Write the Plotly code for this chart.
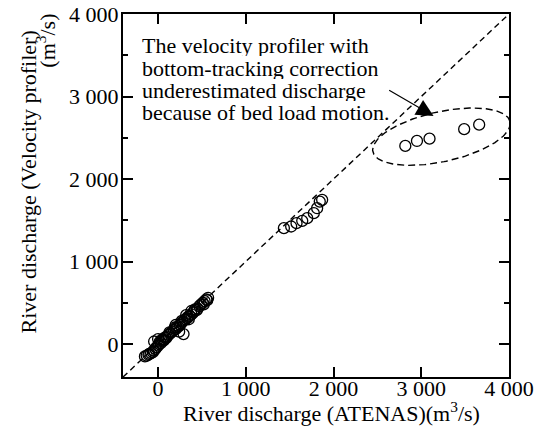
import numpy as np
import plotly.graph_objects as go

# ---- data ----
x_atenas = [
    -150, -130, -110, -100, -80, -60, -50, -30, -20, 0, 0, 10, 20, 30, 40, 50, 60, 70, 80, 90,
    100, 120, 130, 140, 160, 180, 190, 200, 200, 210, 230, 240, 250, 260, 270, 280, 290, 300,
    310, 320, 330, 340, 350, 360, 380, 380, 400, 410, 420, 440, 450, 470, 490, 510, 520, 530,
    550, 560, 570, -45,
    1434, 1517, 1578, 1643, 1700, 1775, 1813, 1843, 1870,
    2818, 2951, 3094, 3489, 3660,
]
y_profiler = [
    -150, -140, -130, -120, -110, -100, -80, -60, -40, -20, 60, 0, 30, 10, 40, 60, 40, 50, 80, 70,
    90, 110, 140, 130, 150, 170, 200, 180, 230, 200, 210, 150, 230, 250, 280, 270, 120, 290,
    300, 350, 310, 330, 300, 340, 360, 400, 380, 400, 420, 410, 430, 460, 480, 500, 480, 520,
    540, 530, 560, 30,
    1404, 1424, 1465, 1493, 1525, 1586, 1646, 1726, 1747,
    2401, 2461, 2489, 2604, 2659,
]
line_1to1 = [-400, 4000]
tick_vals = [0, 1000, 2000, 3000, 4000]
tick_text = ["0", "1 000", "2 000", "3 000", "4 000"]
note_lines = [
    "The velocity profiler with",
    "bottom-tracking correction",
    "underestimated discharge",
    "because of bed load motion.",
]
note_y = [3624, 3349, 3079, 2815]
note_x = -205
arrow_tip = (3140, 2764)
arrow_tail = (2617, 3087)
# ellipse (annotation outline) centre and semi-axis vectors in data units
ell_c = (3230, 2513)
ell_a = (782, 182)
ell_b = (-61, 296)

FONT = "'Liberation Serif', 'Times New Roman', Times, serif"
FS = 22

fig = go.Figure()

fig.add_trace(go.Scatter(
    x=line_1to1, y=line_1to1, mode="lines",
    line=dict(color="black", width=1.4, dash="6px,4px"),
    showlegend=False, hoverinfo="skip",
))

t = np.linspace(0, 2 * np.pi, 200)
ex = ell_c[0] + np.cos(t) * ell_a[0] + np.sin(t) * ell_b[0]
ey = ell_c[1] + np.cos(t) * ell_a[1] + np.sin(t) * ell_b[1]
fig.add_trace(go.Scatter(
    x=ex, y=ey, mode="lines",
    line=dict(color="black", width=1.4, dash="7px,4px"),
    showlegend=False, hoverinfo="skip",
))

fig.add_trace(go.Scatter(
    x=x_atenas, y=y_profiler, mode="markers",
    marker=dict(symbol="circle-open", size=11, color="black", line=dict(width=1.3, color="black")),
    showlegend=False,
))

for txt, yy in zip(note_lines, note_y):
    fig.add_annotation(
        x=note_x, y=yy, xref="x", yref="y", text=txt, showarrow=False,
        xanchor="left", yanchor="middle", height=22, valign="middle",
        font=dict(family=FONT, size=FS, color="black"),
    )

fig.add_annotation(
    x=arrow_tip[0], y=arrow_tip[1], ax=arrow_tail[0], ay=arrow_tail[1],
    xref="x", yref="y", axref="x", ayref="y", text="", showarrow=True,
    arrowhead=2, arrowsize=2.85, arrowwidth=1.2, arrowcolor="black", standoff=0,
)

# y-axis title (two lines)
fig.add_annotation(
    x=-0.245, y=0.537, xref="paper", yref="paper", text="River discharge (Velocity profiler)",
    textangle=-90, showarrow=False, xanchor="center", yanchor="middle",
    font=dict(family=FONT, size=FS, color="black"),
)
fig.add_annotation(
    x=-0.199, y=0.927, xref="paper", yref="paper", text="(m<sup>3</sup>/s)",
    textangle=-90, showarrow=False, xanchor="center", yanchor="middle",
    font=dict(family=FONT, size=FS, color="black"),
)
# x-axis title
fig.add_annotation(
    x=0.541, y=-0.097, xref="paper", yref="paper", text="River discharge (ATENAS)(m<sup>3</sup>/s)",
    showarrow=False, xanchor="center", yanchor="middle",
    font=dict(family=FONT, size=FS, color="black"),
)

axis_common = dict(
    showgrid=False, zeroline=False, showline=True, linecolor="black", linewidth=2,
    mirror="allticks", ticks="inside", ticklen=10, tickwidth=1.5, tickcolor="black",
    range=[-400, 4000], tickvals=tick_vals, ticktext=tick_text, automargin=False,
    tickfont=dict(family=FONT, size=FS, color="black"),
)

fig.update_xaxes(**axis_common, ticklabelstandoff=-9)
fig.update_yaxes(
    **axis_common, ticklabelstandoff=-2,
    minor=dict(ticks="inside", ticklen=5, tickwidth=1.5, tickcolor="black", tickvals=[500, 1500, 2500, 3500]),
)

fig.update_layout(
    width=544, height=430,
    margin=dict(l=123, r=35, t=14, b=53, autoexpand=False),
    paper_bgcolor="white", plot_bgcolor="white",
    font=dict(family=FONT, size=FS, color="black"),
)

# remove the default 8px page margin so the figure fills the window exactly
fig.write_html(
    "out.html",
    config={"displayModeBar": False},
    post_script="document.body.style.margin='0px';",
)
